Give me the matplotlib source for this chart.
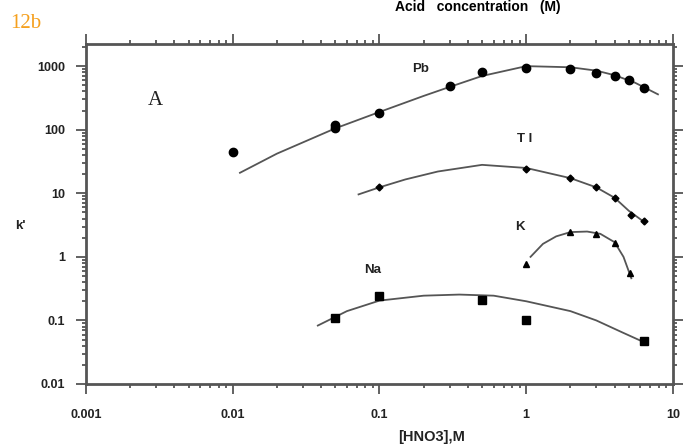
import numpy as np
import matplotlib.pyplot as plt
from matplotlib.ticker import LogLocator, FixedLocator, NullFormatter

# measured points, k' against [HNO3] (M)
pb_x = [0.01, 0.05, 0.05, 0.1, 0.3, 0.5, 1.0, 2.0, 3.0, 4.0, 5.0, 6.3]
pb_y = [45, 105, 120, 185, 480, 820, 930, 890, 790, 690, 600, 460]
tl_x = [0.1, 1.0, 2.0, 3.0, 4.0, 5.2, 6.3]
tl_y = [12.4, 24, 17.3, 12.4, 8.3, 4.6, 3.6]
k_x = [1.0, 2.0, 3.0, 4.0, 5.1]
k_y = [0.77, 2.5, 2.3, 1.67, 0.56]
na_x = [0.05, 0.1, 0.5, 1.0, 6.3]
na_y = [0.108, 0.24, 0.21, 0.10, 0.048]

# smooth trend curves through each set
pb_cx = [0.0112, 0.02, 0.05, 0.1, 0.2, 0.3, 0.5, 1.0, 2.0, 3.0, 4.0, 5.5, 7.9]
pb_cy = [21, 42, 105, 190, 340, 470, 700, 1000, 960, 850, 720, 550, 360]
tl_cx = [0.072, 0.1, 0.15, 0.25, 0.5, 1.0, 2.0, 3.0, 4.0, 5.0, 6.4]
tl_cy = [9.6, 12.4, 16.5, 22, 28, 25, 17.3, 12.4, 8.5, 5.3, 3.5]
k_cx = [1.07, 1.3, 1.6, 2.0, 2.6, 3.2, 4.0, 4.6, 5.2]
k_cy = [1.0, 1.6, 2.1, 2.45, 2.5, 2.3, 1.7, 1.0, 0.46]
na_cx = [0.038, 0.06, 0.1, 0.2, 0.35, 0.6, 1.0, 2.0, 3.0, 4.5, 6.4]
na_cy = [0.083, 0.14, 0.205, 0.245, 0.255, 0.245, 0.2, 0.14, 0.1, 0.065, 0.045]

ink = '#222222'
line_col = '#555555'

fig = plt.figure(figsize=(6.84, 4.48), dpi=100)
ax = fig.add_axes([0.1257, 0.1429, 0.8582, 0.7589])
ax.set_xscale('log')
ax.set_yscale('log')
ax.set_xlim(0.001, 10)
ax.set_ylim(0.01, 2230)

for cx, cy in [(pb_cx, pb_cy), (tl_cx, tl_cy), (k_cx, k_cy), (na_cx, na_cy)]:
    ax.plot(cx, cy, color=line_col, lw=1.3, zorder=2)

ax.plot(pb_x, pb_y, 'o', color='black', ms=6, zorder=3)
ax.plot(tl_x, tl_y, 'D', color='black', ms=3.5, zorder=3)
ax.plot(k_x, k_y, '^', color='black', ms=5, zorder=3)
ax.plot(na_x, na_y, 's', color='black', ms=6, zorder=3)

lab = dict(fontsize=9.5, fontweight='bold', color=ink, family='Liberation Sans')
ax.text(0.19, 900, 'Pb', ha='center', va='center', **lab)
ax.text(0.97, 72, 'T l', ha='center', va='center', **lab)
ax.text(0.91, 3.0, 'K', ha='center', va='center', **lab)
ax.text(0.09, 0.62, 'Na', ha='center', va='center', **lab)
ax.text(0.00295, 290, 'A', ha='center', va='center', fontsize=15,
        family='Liberation Serif', color=ink)

ax.xaxis.set_major_locator(FixedLocator([0.001, 0.01, 0.1, 1, 10]))
ax.yaxis.set_major_locator(FixedLocator([0.01, 0.1, 1, 10, 100, 1000]))
ax.xaxis.set_minor_locator(LogLocator(base=10, subs=np.arange(2, 10)))
ax.yaxis.set_minor_locator(LogLocator(base=10, subs=np.arange(2, 10)))
ax.xaxis.set_minor_formatter(NullFormatter())
ax.yaxis.set_minor_formatter(NullFormatter())
ax.set_xticklabels(['0.001', '0.01', '0.1', '1', '10'])
ax.set_yticklabels(['0.01', '0.1', '1', '10', '100', '1000'])

ax.tick_params(which='both', direction='out', top=True, right=True,
               color=line_col, width=1.3, labelsize=9, labelcolor=ink)
ax.tick_params(which='major', length=7)
ax.tick_params(which='minor', length=3)
ax.tick_params(axis='x', which='major', pad=11)
ax.tick_params(axis='y', which='major', pad=8)
for lbl in ax.get_xticklabels() + ax.get_yticklabels():
    lbl.set_fontweight('bold')
    lbl.set_family('Liberation Sans')
for side in ax.spines.values():
    side.set_color(line_col)
    side.set_linewidth(2)

fig.text(20 / 684, 1 - 226 / 448, "k'", fontsize=9.5, fontweight='bold',
         color=ink, family='Liberation Sans', ha='center', va='center')
fig.text(432 / 684, 1 - 437 / 448, '[HNO3],M', fontsize=10.5, fontweight='bold',
         color=ink, family='Liberation Sans', ha='center', va='center')
fig.text(478 / 684, 0.999, 'Acid   concentration   (M)', fontsize=10,
         fontweight='bold', color='black', family='Liberation Sans',
         ha='center', va='top')
fig.text(10 / 684, 1 - 24 / 448, '12b', fontsize=15, color='#F5A01E',
         family='Liberation Serif', ha='left', va='center')

fig.savefig('out.png', dpi=100)
